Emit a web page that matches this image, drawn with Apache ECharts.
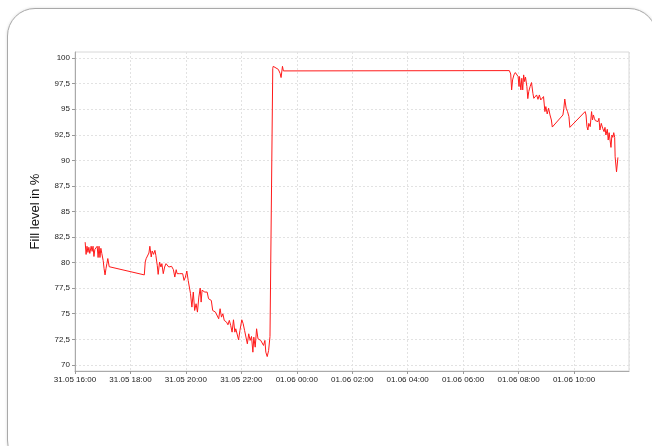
<!DOCTYPE html>
<html>
<head>
<meta charset="utf-8">
<script src="https://cdn.jsdelivr.net/npm/echarts@6/dist/echarts.min.js"></script>
<style>
  html, body { margin: 0; padding: 0; background: #fff; overflow: hidden; }
  #card {
    position: absolute; left: 7px; top: 8px; width: 650px; height: 460px;
    border: 1px solid #a9a9a9; border-radius: 28px; box-sizing: border-box;
    box-shadow: 0 0 3px rgba(0,0,0,0.15); background: #fff;
  }
  #chart { position: absolute; left: 0; top: 0; width: 652px; height: 446px; }
</style>
</head>
<body>
<div id="card"></div>
<div id="chart"></div>
<script>
// readings: "dd.mm hh:mm" and fill level in %
const times = [
  // 31.05 afternoon
  "31.05 16:22","31.05 16:24","31.05 16:26","31.05 16:28","31.05 16:30","31.05 16:32","31.05 16:35",
  "31.05 16:37","31.05 16:39","31.05 16:41","31.05 16:43","31.05 16:45","31.05 16:48","31.05 16:50",
  "31.05 16:52","31.05 16:54","31.05 16:56","31.05 16:58","31.05 17:01","31.05 17:03","31.05 17:05",
  "31.05 17:07","31.05 17:09","31.05 17:11","31.05 17:14","31.05 18:30",
  // 31.05 evening
  "31.05 18:32","31.05 18:34","31.05 18:37","31.05 18:40","31.05 18:42","31.05 18:45","31.05 18:47",
  "31.05 18:50","31.05 18:53","31.05 18:55","31.05 18:58","31.05 19:00","31.05 19:03","31.05 19:06",
  "31.05 19:08","31.05 19:11","31.05 19:14","31.05 19:17","31.05 19:20","31.05 19:23","31.05 19:26",
  "31.05 19:29","31.05 19:33","31.05 19:36","31.05 19:39","31.05 19:41","31.05 19:46","31.05 19:50",
  "31.05 19:53","31.05 19:56","31.05 19:59","31.05 20:02","31.05 20:05","31.05 20:07","31.05 20:10",
  "31.05 20:13","31.05 20:16","31.05 20:19","31.05 20:22","31.05 20:25","31.05 20:28","31.05 20:31",
  "31.05 20:33","31.05 20:35","31.05 20:38","31.05 20:41","31.05 20:44","31.05 20:46","31.05 20:49",
  "31.05 20:52","31.05 20:55","31.05 20:58","31.05 21:01","31.05 21:04","31.05 21:07","31.05 21:11",
  "31.05 21:14","31.05 21:17","31.05 21:20","31.05 21:23","31.05 21:25","31.05 21:28","31.05 21:31",
  "31.05 21:34","31.05 21:37","31.05 21:40","31.05 21:43","31.05 21:46","31.05 21:48","31.05 21:51",
  "31.05 21:54","31.05 21:57","31.05 22:01","31.05 22:04","31.05 22:07","31.05 22:10","31.05 22:13",
  "31.05 22:16","31.05 22:19","31.05 22:22","31.05 22:25","31.05 22:27","31.05 22:30","31.05 22:33",
  "31.05 22:36","31.05 22:39","31.05 22:42","31.05 22:45","31.05 22:48","31.05 22:51","31.05 22:53",
  "31.05 22:56","31.05 22:59","31.05 23:02",
  // refill
  "31.05 23:08","31.05 23:09","31.05 23:20","31.05 23:24","31.05 23:26","31.05 23:29","31.05 23:31",
  "01.06 07:40",
  // 01.06 morning
  "01.06 07:43","01.06 07:45","01.06 07:47","01.06 07:50","01.06 07:53","01.06 07:56","01.06 07:59",
  "01.06 08:01","01.06 08:02","01.06 08:05","01.06 08:07","01.06 08:09","01.06 08:11","01.06 08:13",
  "01.06 08:15","01.06 08:18","01.06 08:20","01.06 08:22","01.06 08:25","01.06 08:28","01.06 08:31",
  "01.06 08:33","01.06 08:36","01.06 08:39","01.06 08:42","01.06 08:45","01.06 08:48","01.06 08:51",
  "01.06 08:54","01.06 08:57","01.06 08:59","01.06 09:02","01.06 09:05","01.06 09:08","01.06 09:11",
  "01.06 09:13","01.06 09:36","01.06 09:38","01.06 09:40","01.06 09:43","01.06 09:46","01.06 09:49",
  "01.06 09:51","01.06 10:24","01.06 10:26","01.06 10:28","01.06 10:30","01.06 10:32","01.06 10:35",
  "01.06 10:38","01.06 10:40","01.06 10:42","01.06 10:44","01.06 10:46","01.06 10:49","01.06 10:52",
  "01.06 10:54","01.06 10:56","01.06 10:59","01.06 11:02","01.06 11:05","01.06 11:07","01.06 11:09",
  "01.06 11:12","01.06 11:14","01.06 11:16","01.06 11:20","01.06 11:22","01.06 11:24","01.06 11:26",
  "01.06 11:28","01.06 11:29","01.06 11:32","01.06 11:34","01.06 11:35"
];

const levels = [
  82.0,80.8,81.6,81.0,81.5,80.9,81.6,
  81.1,81.6,80.6,81.3,81.2,81.6,80.5,
  81.6,80.5,81.4,80.9,80.2,79.4,78.8,
  79.4,79.9,80.4,79.6,78.8,
  80.06,80.39,80.55,80.94,81.6,80.55,81.14,
  80.81,81.2,80.71,79.74,78.85,80.06,79.57,
  79.9,78.92,79.57,79.9,80.0,79.57,79.41,
  79.64,79.31,78.59,79.31,78.92,78.92,78.76,
  78.92,78.26,78.59,79.18,78.26,78.43,76.96,
  75.65,77.12,75.32,75.98,75.16,76.63,77.51,
  76.14,77.3,77.12,77.12,76.96,77.12,76.47,
  76.63,76.3,75.32,75.39,75.16,75.32,74.51,
  75.49,74.67,75.0,74.35,74.41,74.18,73.92,
  74.35,73.85,73.2,74.41,73.2,73.53,73.53,
  72.45,73.37,74.41,74.02,73.37,73.2,72.06,
  73.04,72.39,72.78,71.24,72.71,71.73,73.53,
  72.55,72.39,72.39,72.39,71.9,72.39,71.24,
  70.81,71.4,72.78,
  99.0,99.2,98.9,98.5,98.1,99.2,98.75,
  98.78,
  98.45,96.89,97.87,98.36,98.59,98.78,98.2,
  97.22,98.2,96.89,98.03,96.89,98.36,97.71,
  98.14,97.22,96.04,96.73,97.22,97.61,96.56,
  96.07,95.97,96.4,95.97,96.4,95.91,95.91,
  96.24,94.77,95.26,94.54,95.1,94.44,93.95,
  93.26,94.44,95.1,96.0,95.1,94.77,94.28,
  93.23,94.77,94.44,93.3,92.97,93.62,93.3,
  94.77,93.95,94.44,94.12,93.89,93.95,93.79,
  94.12,92.97,93.62,93.14,92.81,93.23,92.48,
  93.04,91.99,92.71,91.27,92.48,92.25,92.71,
  92.25,90.35,88.88,88.98,90.29
];

const yTicks = [70, 72.5, 75, 77.5, 80, 82.5, 85, 87.5, 90, 92.5, 95, 97.5, 100];
const axisStart = "31.05 16:00";
const axisEnd = "01.06 11:59";

function parseTime(s) {
    const m = s.match(/(\d+)\.(\d+) (\d+):(\d+)/);
    return Date.UTC(2023, +m[2] - 1, +m[1], +m[3], +m[4]);
}

function pad(n) {
    return (n < 10 ? "0" : "") + n;
}

function fmtTime(v) {
    const d = new Date(v);
    return pad(d.getUTCDate()) + "." + pad(d.getUTCMonth() + 1) + " " + pad(d.getUTCHours()) + ":" + pad(d.getUTCMinutes());
}

const seriesData = times.map((t, i) => [parseTime(t), levels[i]]);

const chart = echarts.init(document.getElementById("chart"), null, { renderer: "canvas" });

const gridLine = { show: true, lineStyle: { color: "#e2e2e2", type: [2, 2], width: 1 } };
const labelStyle = { color: "#222", fontFamily: "Liberation Sans", fontSize: 8 };

chart.setOption({
    animation: false,
    grid: {
        left: 75, top: 52, right: 23, bottom: 75,
        show: true, borderColor: "#d8d8d8", borderWidth: 1, backgroundColor: "#fff"
    },
    xAxis: {
        type: "value",
        min: parseTime(axisStart),
        max: parseTime(axisEnd),
        interval: 2 * 3600 * 1000,
        axisLine: { show: true, onZero: false, lineStyle: { color: "#aaa" } },
        axisTick: { show: true, length: 3, lineStyle: { color: "#999" } },
        axisLabel: Object.assign({ formatter: fmtTime, margin: 5, showMaxLabel: false }, labelStyle),
        splitLine: gridLine
    },
    yAxis: {
        type: "value",
        min: 69.4,
        max: 100.6,
        name: "Fill level in %",
        nameLocation: "middle",
        nameRotate: 90,
        nameGap: 33,
        nameTextStyle: { color: "#111", fontFamily: "Liberation Sans", fontSize: 13 },
        axisLine: { show: true, lineStyle: { color: "#aaa" } },
        axisTick: { show: true, length: 3, customValues: yTicks, lineStyle: { color: "#999" } },
        axisLabel: Object.assign({
            customValues: yTicks,
            margin: 5,
            formatter: v => String(v).replace(".", ",")
        }, labelStyle),
        splitLine: gridLine
    },
    series: [{
        type: "line",
        data: seriesData,
        showSymbol: false,
        symbol: "none",
        lineStyle: { color: "#ff1a1a", width: 1 }
    }]
});
</script>
</body>
</html>
